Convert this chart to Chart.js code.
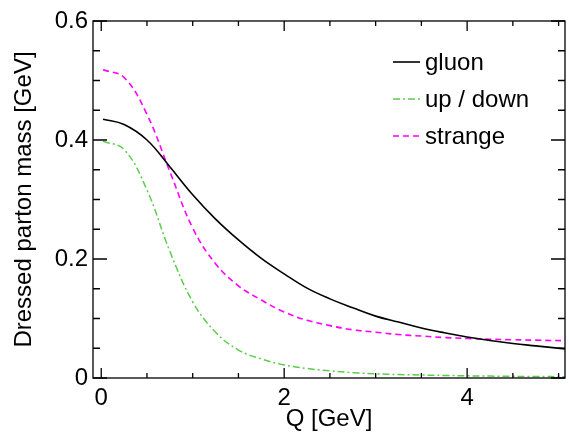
<!DOCTYPE html>
<html>
<head>
<meta charset="utf-8">
<script src="https://cdn.jsdelivr.net/npm/chart.js@4/dist/chart.umd.min.js"></script>
<style>
  html, body { margin: 0; padding: 0; background: #fff; }
  #wrap { width: 569px; height: 434px; }
</style>
</head>
<body>
<div id="wrap"><canvas id="chart1"></canvas></div>
<script>
// data
var qValues = [0.02, 0.25, 0.5, 0.75, 1.0, 1.25, 1.5, 1.75, 2.0, 2.25, 2.5, 2.75, 3.0, 3.25, 3.5, 3.75, 4.0, 4.25, 4.5, 4.75, 5.07];
var gluonMass = [0.435, 0.426, 0.400, 0.355, 0.308, 0.267, 0.232, 0.201, 0.175, 0.151, 0.133, 0.118, 0.104, 0.094, 0.084, 0.076, 0.069, 0.063, 0.058, 0.054, 0.049];
var upDownMass = [0.398, 0.384, 0.316, 0.213, 0.128, 0.077, 0.047, 0.032, 0.022, 0.016, 0.012, 0.009, 0.007, 0.0058, 0.005, 0.0043, 0.0037, 0.0032, 0.0028, 0.0025, 0.0022];
var strangeMass = [0.518, 0.505, 0.443, 0.347, 0.252, 0.192, 0.155, 0.131, 0.111, 0.097, 0.088, 0.081, 0.077, 0.073, 0.0705, 0.068, 0.0665, 0.0652, 0.0643, 0.0636, 0.0627];

var seriesNames = ['gluon', 'up / down', 'strange'];

var xTicks = [0, 0.5, 1, 1.5, 2, 2.5, 3, 3.5, 4, 4.5, 5];
var xTickLabels = {0: '0', 2: '2', 4: '4'};
var yTicks = [0, 0.05, 0.1, 0.15, 0.2, 0.25, 0.3, 0.35, 0.4, 0.45, 0.5, 0.55, 0.6];
var yTickLabels = {0: '0', 0.2: '0.2', 0.4: '0.4', 0.6: '0.6'};

var FONT = '"Liberation Sans", Arial, sans-serif';

function points(ys) {
    return qValues.map(function(q, i) {
        return { x: q, y: ys[i] };
    });
}

function labelFor(map, v) {
    var key = Math.round(v * 100) / 100;
    return map.hasOwnProperty(key) ? map[key] : '';
}

// frame + inward ticks, ROOT style
var framePlugin = {
    id: 'frame',
    afterDraw: function(chart) {
        var c = chart.ctx, a = chart.chartArea;
        var xs = chart.scales.x, ys = chart.scales.y;
        c.save();
        c.strokeStyle = '#000';
        c.lineWidth = 1.3;
        c.strokeRect(a.left, a.top, a.right - a.left, a.bottom - a.top);
        c.beginPath();
        xTicks.forEach(function(v) {
            var px = xs.getPixelForValue(v);
            var len = labelFor(xTickLabels, v) !== '' ? 10 : 5;
            c.moveTo(px, a.bottom); c.lineTo(px, a.bottom - len);
            c.moveTo(px, a.top); c.lineTo(px, a.top + len);
        });
        yTicks.forEach(function(v) {
            var py = ys.getPixelForValue(v);
            var len = labelFor(yTickLabels, v) !== '' ? 14 : 7;
            c.moveTo(a.left, py); c.lineTo(a.left + len, py);
            c.moveTo(a.right, py); c.lineTo(a.right - len, py);
        });
        c.stroke();

        // legend
        c.font = '24px ' + FONT;
        c.textBaseline = 'middle';
        c.fillStyle = '#000';
        chart.data.datasets.forEach(function(ds, i) {
            var y = 62 + i * 37;
            c.beginPath();
            c.strokeStyle = ds.borderColor;
            c.lineWidth = ds.borderWidth;
            c.setLineDash(ds.borderDash || []);
            c.moveTo(393, y); c.lineTo(420, y);
            c.stroke();
            c.setLineDash([]);
            c.fillText(ds.label, 425, y + 1);
        });
        c.restore();
    }
};

var ctx = document.getElementById('chart1').getContext('2d');
var myChart = new Chart(ctx, {
    type: 'line',
    data: {
        datasets: [{
                label: seriesNames[0],
                data: points(gluonMass),
                borderColor: '#000000',
                borderWidth: 1.6
            },
            {
                label: seriesNames[1],
                data: points(upDownMass),
                borderColor: '#5ccc4c',
                borderWidth: 1.5,
                borderDash: [7, 3, 2, 3]
            },
            {
                label: seriesNames[2],
                data: points(strangeMass),
                borderColor: '#ff00ff',
                borderWidth: 1.6,
                borderDash: [6, 4]
            }
        ]
    },
    options: {
        responsive: true,
        maintainAspectRatio: false,
        animation: false,
        devicePixelRatio: 1,
        elements: {
            point: { radius: 0 },
            line: { tension: 0.4 }
        },
        layout: {
            padding: { left: 0, top: 21, right: 4, bottom: 0 }
        },
        plugins: {
            legend: { display: false },
            tooltip: { enabled: false }
        },
        scales: {
            x: {
                type: 'linear',
                min: -0.09,
                max: 5.07,
                afterBuildTicks: function(scale) {
                    scale.ticks = xTicks.map(function(v) { return { value: v }; });
                },
                afterFit: function(scale) { scale.height = 56; },
                grid: { display: false, drawTicks: false },
                border: { display: false },
                ticks: {
                    color: '#000',
                    padding: 6,
                    maxRotation: 0,
                    autoSkip: false,
                    font: { family: FONT, size: 24 },
                    callback: function(v) { return labelFor(xTickLabels, v); }
                },
                title: {
                    display: true,
                    text: 'Q [GeV]',
                    color: '#000',
                    padding: { top: 4, bottom: 0 },
                    font: { family: FONT, size: 24 }
                }
            },
            y: {
                min: 0,
                max: 0.6,
                afterBuildTicks: function(scale) {
                    scale.ticks = yTicks.map(function(v) { return { value: v }; });
                },
                afterFit: function(scale) { scale.width = 93; },
                grid: { display: false, drawTicks: false },
                border: { display: false },
                ticks: {
                    color: '#000',
                    padding: 5,
                    autoSkip: false,
                    font: { family: FONT, size: 24 },
                    callback: function(v) { return labelFor(yTickLabels, v); }
                },
                title: {
                    display: true,
                    text: 'Dressed parton mass [GeV]',
                    color: '#000',
                    padding: { top: 10, bottom: 0 },
                    font: { family: FONT, size: 24 }
                }
            }
        }
    },
    plugins: [framePlugin]
});
</script>
</body>
</html>
